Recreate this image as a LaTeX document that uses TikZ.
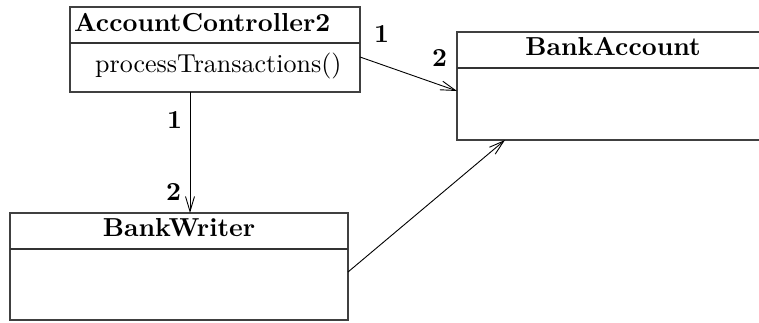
\documentclass[tikz,border=0pt]{standalone}
\usepackage{fontspec}
\usetikzlibrary{arrows.meta}
% text is set at 10pt and enlarged, keeping the 10pt design weight
\newcommand{\bigtxt}[1]{\scalebox{2.6}{#1}}
\begin{document}
\begin{tikzpicture}[x=1pt,y=-1pt,
  classbox/.style={draw=black!75, line width=1.1pt, inner sep=0pt, outer sep=0pt, anchor=north west},
  divider/.style={draw=black!80, line width=1.1pt},
  label/.style={inner sep=0pt},
  assoc/.style={draw=black, line width=0.9pt, -{Straight Barb[length=15pt,width=9pt,line width=0.9pt]}},
  mult/.style={inner sep=0pt, anchor=base west}]
  \useasboundingbox (0,0) rectangle (759,322);
  \clip (0,0) rectangle (759,322);

  % class boxes
  \node[classbox, minimum width=290pt, minimum height=85pt] (ac) at (70,7) {};
  \node[classbox, minimum width=312pt, minimum height=108pt] (ba) at (457,32) {};
  \node[classbox, minimum width=338pt, minimum height=107pt] (bw) at (10,213) {};

  % compartments
  \draw[divider] ([yshift=-36pt]ac.north west) -- ([yshift=-36pt]ac.north east);
  \draw[divider] ([yshift=-36pt]ba.north west) -- ([yshift=-36pt]ba.north east);
  \draw[divider] ([yshift=-36pt]bw.north west) -- ([yshift=-36pt]bw.north east);

  % class names and operations
  \node[label, anchor=base west] (acname) at (74,31) {\bigtxt{\bfseries AccountController2}};
  \node[label, anchor=base west] (acop) at (95,72) {\bigtxt{processTransactions()}};
  \node[label, anchor=base] (baname) at (613,55) {\bigtxt{\bfseries BankAccount}};
  \node[label, anchor=base] (bwname) at (179,236.5) {\bigtxt{\bfseries BankWriter}};

  % associations
  \draw[assoc] ([yshift=-7.5pt]ac.east) -- ([yshift=-5pt]ba.west);
  \draw[assoc] ([xshift=-25pt]ac.south) -- ([xshift=11pt]bw.north);
  \draw[assoc] ([yshift=-5.5pt]bw.east) -- ([xshift=-108pt]ba.south);

  % multiplicities
  \node[mult] (m1) at (374,42) {\bigtxt{\bfseries 1}};
  \node[mult] (m2) at (432,66) {\bigtxt{\bfseries 2}};
  \node[mult] (m3) at (167,128) {\bigtxt{\bfseries 1}};
  \node[mult] (m4) at (166,200) {\bigtxt{\bfseries 2}};
\end{tikzpicture}
\end{document}
